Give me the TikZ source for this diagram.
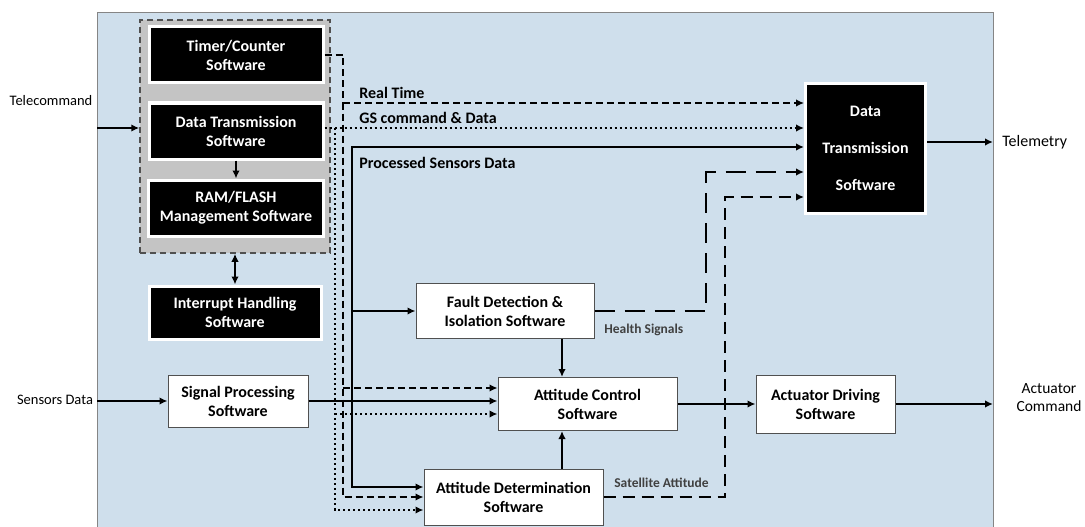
\documentclass[tikz,border=0pt]{standalone}
\usepackage{fontspec}
\setmainfont{Carlito}
\usepackage{xcolor}
\usetikzlibrary{positioning,arrows.meta}

\definecolor{panelblue}{RGB}{207,223,236}
\definecolor{grpgrey}{RGB}{196,196,196}
\definecolor{edgegrey}{RGB}{80,80,80}

\begin{document}
\begin{tikzpicture}[
  x=1pt, y=-1pt,
  wbox/.style={draw=edgegrey, fill=white, line width=1pt, align=center, inner sep=2pt,
    font=\bfseries\fontsize{16}{19}\selectfont},
  kbox/.style={draw=white, fill=black, line width=3pt, text=white, align=center, inner sep=2pt,
    font=\bfseries\fontsize{16}{19}\selectfont},
  grp/.style={draw=edgegrey, fill=grpgrey, dash pattern=on 6pt off 4pt, line width=1.5pt},
  io/.style={font=\fontsize{14.5}{18}\selectfont, align=center},
  lbl/.style={font=\bfseries\fontsize{16}{19}\selectfont, anchor=base west},
  slbl/.style={font=\bfseries\fontsize{13.5}{15}\selectfont, text=black!75, anchor=base west},
  rt/.style={dash pattern=on 7pt off 4pt, line width=1.5pt},
  gs/.style={dash pattern=on 2.2pt off 2.8pt, line width=2.3pt},
  hs/.style={dash pattern=on 20pt off 10pt, line width=2.6pt},
  sa/.style={dash pattern=on 12pt off 7pt, line width=2.6pt},
  >={Latex[length=8pt,width=7.5pt]}, line width=2pt
]
\useasboundingbox (0,0) rectangle (1085,527);
% panel
\fill[panelblue] (97,13) rectangle (993,527);
\draw[edgegrey!70, line width=1pt] (97,527) -- (97,13) -- (993,13) -- (993,527);

% on-board group
\node[grp, minimum width=190pt, minimum height=233pt] (grp) at (235,136.5) {};
\node[kbox, minimum width=174pt, minimum height=56pt] (tc) at (236,55) {Timer/Counter\\Software};
\node[kbox, minimum width=174pt, minimum height=56pt, below=17pt of tc] (dt1) {Data Transmission\\Software};
\node[kbox, minimum width=175pt, minimum height=56pt, below=18pt of dt1] (ram) {RAM/FLASH\\Management Software};
\node[kbox, minimum width=172pt, minimum height=53pt] (irq) at (235,312.5) {Interrupt Handling\\Software};

% processing chain
\node[wbox, minimum width=140pt, minimum height=52pt] (sp) at (238,401) {Signal Processing\\Software};
\node[wbox, minimum width=178pt, minimum height=55pt] (fdi) at (505,311) {Fault Detection \&\\Isolation Software};
\node[wbox, minimum width=179pt, minimum height=53pt] (acs) at (587.5,404) {Attitude Control\\Software};
\node[wbox, minimum width=179pt, minimum height=56pt] (ads) at (513.5,497) {Attitude Determination\\Software};
\node[wbox, minimum width=139pt, minimum height=58pt] (act) at (825.5,404) {Actuator Driving\\Software};
\node[kbox, minimum width=120pt, minimum height=130pt] (dt2) at (865.5,148.5) {Data\\[18pt]Transmission\\[18pt]Software};

% inputs / outputs
\node[io] (tcmd) at (51,101) {Telecommand};
\node[io] (sdat) at (55,400) {Sensors Data};
\node[io, anchor=west, font=\fontsize{16}{18}\selectfont] (tlm) at (998,142) {Telemetry};
\node[io, font=\fontsize{15.5}{18}\selectfont] (acmd) at (1049,398) {Actuator\\Command};
\coordinate (in1) at (97,128);
\coordinate (in2) at (97,401);
\coordinate (out1) at (993,142);
\coordinate (out2) at (993,404);

\draw[->] (in1) -- (in1 -| grp.west);
\draw[->] (in2) -- (sp.west);
\draw[->] (dt2.east |- out1) -- (out1);
\draw[->] (act.east) -- (out2);
\draw[->] (dt1.south) -- (ram.north);
\draw[<->] (grp.south) -- (irq.north);

% bus corners
\coordinate (rt1) at (343,55);
\coordinate (rt2) at (343,103);
\coordinate (rt3) at (343,388);
\coordinate (rt4) at (343,497);
\coordinate (gs1) at (335,128);
\coordinate (gs2) at (335,414);
\coordinate (gs3) at (335,510);
\coordinate (ps1) at (352,147);
\coordinate (ps2) at (352,487);
\coordinate (mid) at (562,404);
\coordinate (hs1) at (706,172);
\coordinate (sa1) at (725,197);

% real time
\draw[rt,->] (tc.east) -- (rt1) -- (rt4) -- (rt4 -| ads.west);
\draw[rt,->] (rt2) -- (rt2 -| dt2.west);
\draw[rt,->] (rt3) -- (rt3 -| acs.west);
% GS command & data
\draw[gs,->] (dt1.east |- gs1) -- (gs1 -| dt2.west);
\draw[gs,->] (gs1) -- (gs3) -- (gs3 -| ads.west);
\draw[gs,->] (gs2) -- (gs2 -| acs.west);
% processed sensors data
\draw[->] (sp.east) -- (sp.east -| acs.west);
\draw[->] (ps1 |- sp.east) -- (ps1) -- (ps1 -| dt2.west);
\draw[->] (ps1 |- sp.east) -- (ps2) -- (ps2 -| ads.west);
\draw[->] (ps1 |- fdi.west) -- (fdi.west);

\draw[->] (fdi.south -| mid) -- (acs.north -| mid);
\draw[->] (ads.north -| mid) -- (acs.south -| mid);
\draw[->] (acs.east) -- (act.west);

% health and attitude to telemetry
\draw[hs,->] (fdi.east) -| (hs1) -- (hs1 -| dt2.west);
\draw[sa,->] (ads.east) -| (sa1) -- (sa1 -| dt2.west);

% line labels
\node[lbl] (lrt) at (355,99) {Real Time};
\node[lbl] (lgs) at (355,123) {GS command \& Data};
\node[lbl] (lpsd) at (355,168) {Processed Sensors Data};
\node[slbl] (lhs) at (600,333) {Health Signals};
\node[slbl] (lsa) at (610,487) {Satellite Attitude};
\end{tikzpicture}
\end{document}
